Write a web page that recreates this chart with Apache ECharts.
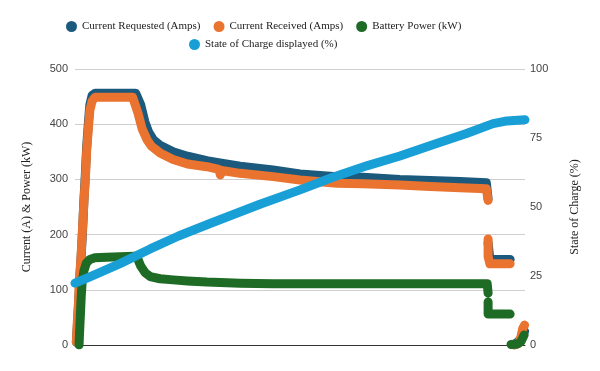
<!DOCTYPE html>
<html><head><meta charset="utf-8">
<script src="https://cdn.jsdelivr.net/npm/echarts@6/dist/echarts.min.js"></script>
<style>html,body{margin:0;padding:0;background:#fff}#c{width:600px;height:371px}</style>
</head><body><div id="c"></div>
<script>
const seriesNames = ['Current Requested (Amps)', 'Current Received (Amps)', 'Battery Power (kW)', 'State of Charge displayed (%)'];
const leftTicks = [0, 100, 200, 300, 400, 500];
const rightTicks = [0, 25, 50, 75, 100];

// time as percent of session (0..100); null = gap in the recording
const reqTime = [0.3, 0.6, 0.9, 1.1, 1.4, 1.7, 2.0, 2.3, 2.6, 3.0, 3.3, 3.8, 4.5, 10, 13.5, 14.6, 15.5, 16.4, 17.4, 18.9, 21.8, 25, 29.3, 32.2, 36.7, 44, 50, 58.2, 64, 72.2, 78.9, 85.6, 91.4, 91.8, 91.8, 91.8, 92.2, 96.7, 96.7, 97.6, 99, 99.9];
const reqAmps = [5, 45, 90, 125, 165, 210, 265, 310, 360, 405, 435, 452, 456, 456, 456, 435, 405, 385, 372, 362, 350, 342, 334, 330, 324, 317, 310, 305, 304, 300, 298, 296, 294, 265, null, 185, 155, 155, null, 0, 10, 25];

const recTime = [0.3, 0.5, 0.8, 1.0, 1.3, 1.6, 2.0, 2.3, 2.6, 3.0, 3.3, 3.8, 4.5, 10, 12.8, 14.0, 14.9, 16.0, 17.0, 18.9, 21.8, 25, 29.3, 32.0, 32.3, 32.6, 36.7, 44, 50, 58.2, 64, 72.2, 78.9, 85.6, 91.4, 91.8, 91.8, 91.8, 91.8, 92.2, 96.7, 96.7, 97.6, 98.6, 99.1, 99.5, 99.9];
const recAmps = [5, 40, 80, 120, 155, 200, 262, 300, 352, 395, 425, 442, 449, 449, 449, 420, 392, 372, 360, 348, 336, 328, 323, 318, 308, 316, 311, 305, 299, 293, 292, 290, 287, 285, 283, 262, null, 192, 160, 147, 147, null, 0, 3, 15, 30, 36];

const batTime = [0.9, 1.0, 1.2, 1.4, 1.6, 2.0, 2.5, 3.3, 4.4, 7, 10, 13.3, 14.0, 14.6, 15.6, 16.7, 18.9, 21.8, 25, 29.3, 36.7, 44, 60, 80, 91.6, 91.8, 91.8, 91.8, 91.8, 91.8, 96.7, 96.7, 96.9, 98.4, 99.1, 99.8];
const batKW = [0, 20, 55, 90, 115, 135, 148, 155, 158, 159, 160, 161, 155, 143, 131, 124, 120, 118, 116, 114, 112, 111, 111, 111, 111, 108, 94, null, 78, 56, 56, null, 1, 2, 6, 18];

const socTime = [0, 3.3, 10, 16.7, 23, 30, 41.1, 50, 57.3, 65, 72.2, 80, 87, 92.9, 96, 100];
const socPct = [22.4, 24.7, 29.5, 34.8, 39.5, 44, 51, 56.2, 60.8, 65, 68.5, 72.8, 76.6, 80.2, 81.2, 81.6];

const colors = ['#1c5a7d', '#ea7330', '#1d6b25', '#189fd6'];

function pairs(t, v) { return t.map((x, i) => [x, v[i] === null ? '-' : v[i]]); }

function mk(name, t, v, color, axis) {
  return {
    name, type: 'line', yAxisIndex: axis, data: pairs(t, v), showSymbol: false, symbol: 'circle',
    connectNulls: false, clip: true, animation: false,
    itemStyle: { color },
    lineStyle: { color, width: 9, cap: 'round', join: 'round' }
  };
}

const chart = echarts.init(document.getElementById('c'));
const legendText = { fontFamily: 'Liberation Serif', fontSize: 11, color: '#222' };
chart.setOption({
  animation: false,
  legend: [
    { data: seriesNames.slice(0, 3), left: 66, top: 21, padding: 0, icon: 'circle', itemWidth: 11, itemHeight: 11, itemGap: 13, textStyle: legendText },
    { data: seriesNames.slice(3), left: 189, top: 39, padding: 0, icon: 'circle', itemWidth: 11, itemHeight: 11, textStyle: legendText }
  ],
  grid: { left: 75, right: 75, top: 69, bottom: 26 },
  xAxis: { type: 'value', min: 0, max: 100, axisLabel: { show: false }, axisTick: { show: false }, splitLine: { show: false },
    axisLine: { lineStyle: { color: '#333', width: 1 } } },
  yAxis: [
    { type: 'value', min: leftTicks[0], max: leftTicks[leftTicks.length - 1], interval: 100,
      name: 'Current (A) & Power (kW)', nameLocation: 'middle', nameRotate: 90, nameGap: 42,
      nameTextStyle: { fontFamily: 'Liberation Serif', fontSize: 12, color: '#222' },
      axisLine: { show: false }, axisTick: { show: false },
      axisLabel: { margin: 7, fontFamily: 'Liberation Sans', fontSize: 11, color: '#444' },
      splitLine: { lineStyle: { color: '#cfcfcf' } } },
    { type: 'value', min: rightTicks[0], max: rightTicks[rightTicks.length - 1], interval: 25,
      name: 'State of Charge (%)', nameLocation: 'middle', nameRotate: 90, nameGap: 44,
      nameTextStyle: { fontFamily: 'Liberation Serif', fontSize: 12, color: '#222' },
      axisLine: { show: false }, axisTick: { show: false },
      axisLabel: { margin: 5, fontFamily: 'Liberation Sans', fontSize: 11, color: '#444' },
      splitLine: { show: false } }
  ],
  series: [
    mk(seriesNames[0], reqTime, reqAmps, colors[0], 0),
    mk(seriesNames[1], recTime, recAmps, colors[1], 0),
    mk(seriesNames[2], batTime, batKW, colors[2], 0),
    mk(seriesNames[3], socTime, socPct, colors[3], 1)
  ]
});
</script></body></html>
